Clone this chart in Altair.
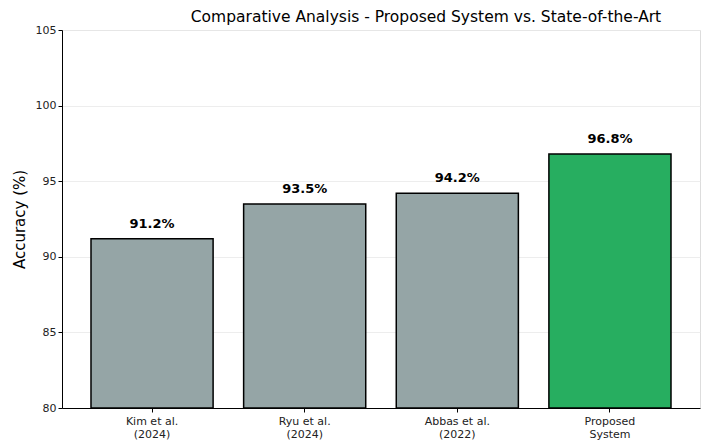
import altair as alt
import pandas as pd

methods = ["Kim et al.\n(2024)", "Ryu et al.\n(2024)", "Abbas et al.\n(2022)", "Proposed\nSystem"]
accuracy = [91.2, 93.5, 94.2, 96.8]
colors = ["#95a5a6", "#95a5a6", "#95a5a6", "#27ae60"]
y_ticks = [80, 85, 90, 95, 100, 105]

df = pd.DataFrame({
    "method": methods,
    "accuracy": accuracy,
    "color": colors,
    "label": [f"{v:.1f}%" for v in accuracy],
})

FONT = "DejaVu Sans"

x = alt.X(
    "method:N",
    sort=methods,
    title=None,
    scale=alt.Scale(paddingInner=0.2, paddingOuter=0.19),
    axis=alt.Axis(
        labelExpr="split(datum.label, '\\n')",
        labelAngle=0,
        labelFont=FONT,
        labelFontSize=11,
        labelColor="#222222",
        labelLineHeight=13,
        labelPadding=3,
        tickColor="black",
        tickSize=4,
        domainColor="black",
        domainWidth=1,
        grid=False,
    ),
)

y_scale = alt.Scale(domain=[80, 105], zero=False, nice=False)

bars = alt.Chart(df).mark_bar(stroke="black", strokeWidth=1.5).encode(
    x=x,
    y=alt.Y(
        "accuracy:Q",
        scale=y_scale,
        title="Accuracy (%)",
        axis=alt.Axis(
            values=y_ticks,
            labelFont=FONT,
            labelFontSize=11,
            labelColor="#222222",
            titleFont=FONT,
            titleFontSize=15,
            titleFontWeight="normal",
            titleColor="black",
            titlePadding=8,
            tickColor="black",
            tickSize=4,
            domainColor="black",
            domainWidth=1,
            grid=True,
            gridColor="#e8e8e8",
            gridWidth=0.8,
        ),
    ),
    y2=alt.datum(80),
    color=alt.Color("color:N", scale=None),
)

labels = alt.Chart(df).mark_text(
    font=FONT, fontSize=13, fontWeight="bold", color="black", baseline="bottom", dy=-8
).encode(
    x=alt.X("method:N", sort=methods),
    y=alt.Y("accuracy:Q", scale=y_scale),
    text="label:N",
)

chart = (
    alt.layer(bars, labels)
    .properties(
        width=638,
        height=378,
        title=alt.TitleParams(
            "Comparative Analysis - Proposed System vs. State-of-the-Art",
            font=FONT,
            fontSize=15.5,
            fontWeight="normal",
            color="black",
            anchor="middle",
            dx=45,
            dy=4,
            offset=3,
        ),
        autosize=alt.AutoSizeParams(type="none"),
        padding={"left": 62, "top": 30, "right": 2, "bottom": 32},
    )
    .configure_view(stroke="black", strokeWidth=1)
    .configure(background="white")
)

chart.save("out.html", embed_options={"renderer": "svg", "actions": False})
